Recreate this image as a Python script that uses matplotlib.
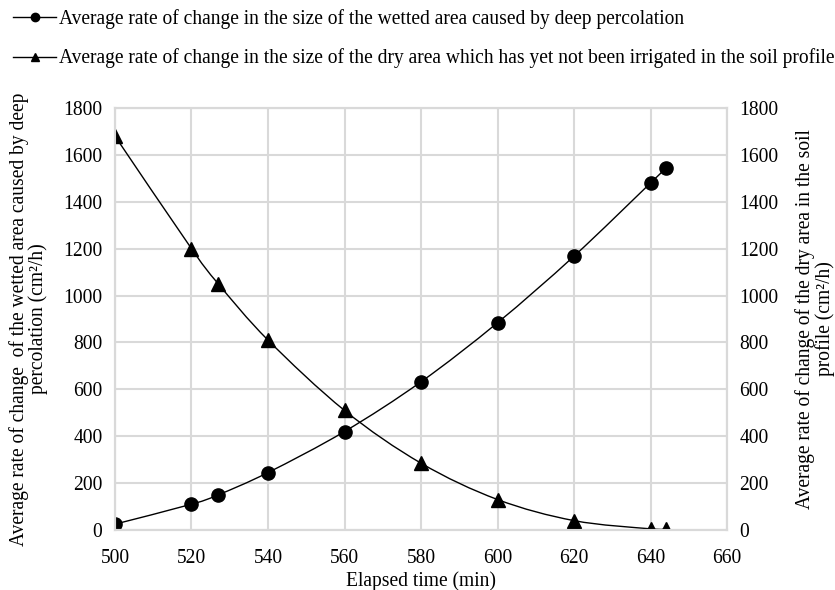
import numpy as np
import matplotlib
matplotlib.use("Agg")
from matplotlib import pyplot as plt
from matplotlib.path import Path
from matplotlib.patches import PathPatch
from matplotlib.lines import Line2D

plt.rcParams['font.family'] = ['Liberation Serif', 'DejaVu Serif']

# data
time_min = [500, 520, 527, 540, 560, 580, 600, 620, 640, 644]
wetted_rate = [25, 110, 150, 245, 420, 632, 884, 1168, 1480, 1543]
dry_rate = [1680, 1200, 1050, 810, 510, 285, 130, 40, 5, 5]

x_ticks = [500, 520, 540, 560, 580, 600, 620, 640, 660]
y_ticks = [0, 200, 400, 600, 800, 1000, 1200, 1400, 1600, 1800]

label_wet = "Average rate of change in the size of the wetted area caused by deep percolation"
label_dry = "Average rate of change in the size of the dry area which has yet not been irrigated in the soil profile"


def smooth_path(xs, ys):
    # excel-like smoothed line: cubic bezier through the points
    x = np.asarray(xs, float)
    y = np.asarray(ys, float)
    n = len(x)
    verts = [(x[0], y[0])]
    codes = [Path.MOVETO]
    for i in range(n - 1):
        p0 = i - 1 if i > 0 else i
        p3 = i + 2 if i + 2 < n else i + 1
        c1 = (x[i] + (x[i + 1] - x[p0]) / 6, y[i] + (y[i + 1] - y[p0]) / 6)
        c2 = (x[i + 1] - (x[p3] - x[i]) / 6, y[i + 1] - (y[p3] - y[i]) / 6)
        verts += [c1, c2, (x[i + 1], y[i + 1])]
        codes += [Path.CURVE4] * 3
    return Path(verts, codes)


fig = plt.figure(figsize=(8.35, 5.9), dpi=100)
ax = fig.add_axes([0.1377, 0.1017, 0.733, 0.7153])
ax2 = ax.twinx()

fs = 14.05
grid_c = '#d9d9d9'

ax.add_patch(PathPatch(smooth_path(time_min, wetted_rate), fill=False, color='black', lw=1))
ax.plot(time_min, wetted_rate, 'o', color='black', ms=9.5)
ax2.add_patch(PathPatch(smooth_path(time_min, dry_rate), fill=False, color='black', lw=1))
ax2.plot(time_min, dry_rate, '^', color='black', ms=9.5)

for a in (ax, ax2):
    a.set_ylim(0, 1800)
    a.set_yticks(y_ticks)
    a.tick_params(length=0, labelsize=fs, pad=9)
    for s in a.spines.values():
        s.set_color(grid_c)
        s.set_linewidth(1.5)
ax.tick_params(axis='x', pad=14)
ax.set_xlim(500, 660)
ax.set_xticks(x_ticks)
ax.grid(True, color=grid_c, lw=1.5)
ax.set_axisbelow(True)

ax.set_xlabel("Elapsed time (min)", fontsize=fs, labelpad=2)
ax.set_ylabel("Average rate of change  of the wetted area caused by deep\npercolation (cm²/h)",
              fontsize=fs, labelpad=11, linespacing=0.95)
ax2.set_ylabel("Average rate of change of the dry area in the soil\nprofile (cm²/h)",
               fontsize=fs, labelpad=12, linespacing=0.95)

h1 = Line2D([], [], color='black', marker='o', lw=1, ms=6)
h2 = Line2D([], [], color='black', marker='^', lw=1, ms=6)
fig.legend([h1], [label_wet], loc='center left', bbox_to_anchor=(-0.005, 0.968),
           frameon=False, fontsize=fs, handlelength=2.2, handletextpad=0.15)
fig.legend([h2], [label_dry], loc='center left', bbox_to_anchor=(-0.005, 0.901),
           frameon=False, fontsize=fs, handlelength=2.2, handletextpad=0.15)

fig.savefig("out.png", dpi=100)
